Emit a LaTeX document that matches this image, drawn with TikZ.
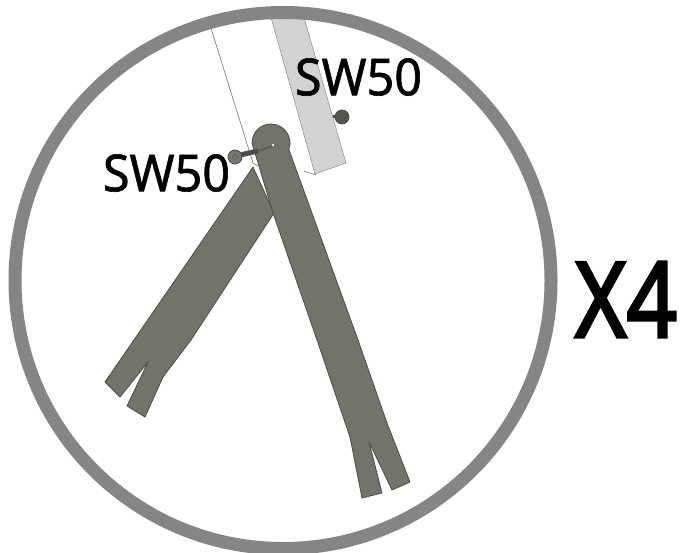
\documentclass[tikz,border=0pt]{standalone}
\usepackage{fontspec}
\setmainfont{Noto Sans}
\newfontfamily\swfont[FakeStretch=0.95,FakeBold=1.2]{Noto Sans}
\newfontfamily\timesfont[FakeStretch=0.84,FakeBold=2.6]{Noto Sans}
\usepackage{xcolor}
\definecolor{ringgrey}{HTML}{858585}
\definecolor{strapgrey}{HTML}{73736c}
\definecolor{strapedge}{HTML}{4c4c48}
\definecolor{tubegrey}{HTML}{d2d2d2}
\definecolor{screwgrey}{HTML}{777772}

\begin{document}
\begin{tikzpicture}[
  x=1pt, y=-1pt,
  ring/.style={draw=ringgrey, line width=13pt},
  tube/.style={draw=black!45, fill=tubegrey, line width=0.5pt},
  outline/.style={draw=black!55, line width=0.6pt},
  strap/.style={draw=strapedge, fill=strapgrey, line width=0.8pt, line join=round},
  screw/.style={circle, draw=strapedge, fill=screwgrey, line width=0.8pt, inner sep=0pt, minimum size=14pt},
  label/.style={font=\swfont\fontsize{51}{51}\selectfont, text=black, inner sep=0pt}
]
\useasboundingbox (0,0) rectangle (684,553);
\fill[white] (0,0) rectangle (684,553);

% Bars behind the ring
\draw[outline] (210,25) -- (253,163) -- (258,166);
\draw[outline] (304,171) -- (316,175);
\draw[tube] (270,14) -- (303,14) -- (346,163) -- (315,174) -- cycle;
\draw[ring] (283,280.5) circle (268);

% Back screw
\draw[strapedge, line width=3pt] (333,117) -- (341,117);
\node[screw, fill=screwgrey!70!black] (screwback) at (342,117) {};

% Straps
\path[strap] (253,167) -- (274,213) -- (191,340) -- (163,377) -- (145,417)
  -- (127,406) -- (148,362) -- (120,397) -- (105,382) -- cycle;
\path[strap] (252,143) arc[start angle=180, end angle=380, radius=19]
  -- (358,340) -- (387,423) -- (410,482) -- (392,490) -- (369,442)
  -- (382,493) -- (362,498) -- (350,437) -- (317,340) -- (273,213) -- cycle;

% Front screw
\draw[black!70, line width=5pt] (240,155) -- (258,151);
\draw[black!70, line width=1pt] (258,151) -- (272,146);
\node[circle, fill=white, inner sep=0pt, minimum size=2.5pt] (screwtip) at (273,145) {};
\node[screw] (screwfront) at (235,157) {};
\node[circle, draw=strapedge, inner sep=0pt, minimum size=5pt] (screwhole) at (235,157) {};

% Labels
\node[label] (swback) at (358.5,77) {SW50};
\node[label] (swfront) at (166.5,173) {SW50};
\node[font=\timesfont\fontsize{105}{105}\selectfont, inner sep=0pt] (times) at (626,299.5) {X4};
\end{tikzpicture}
\end{document}
